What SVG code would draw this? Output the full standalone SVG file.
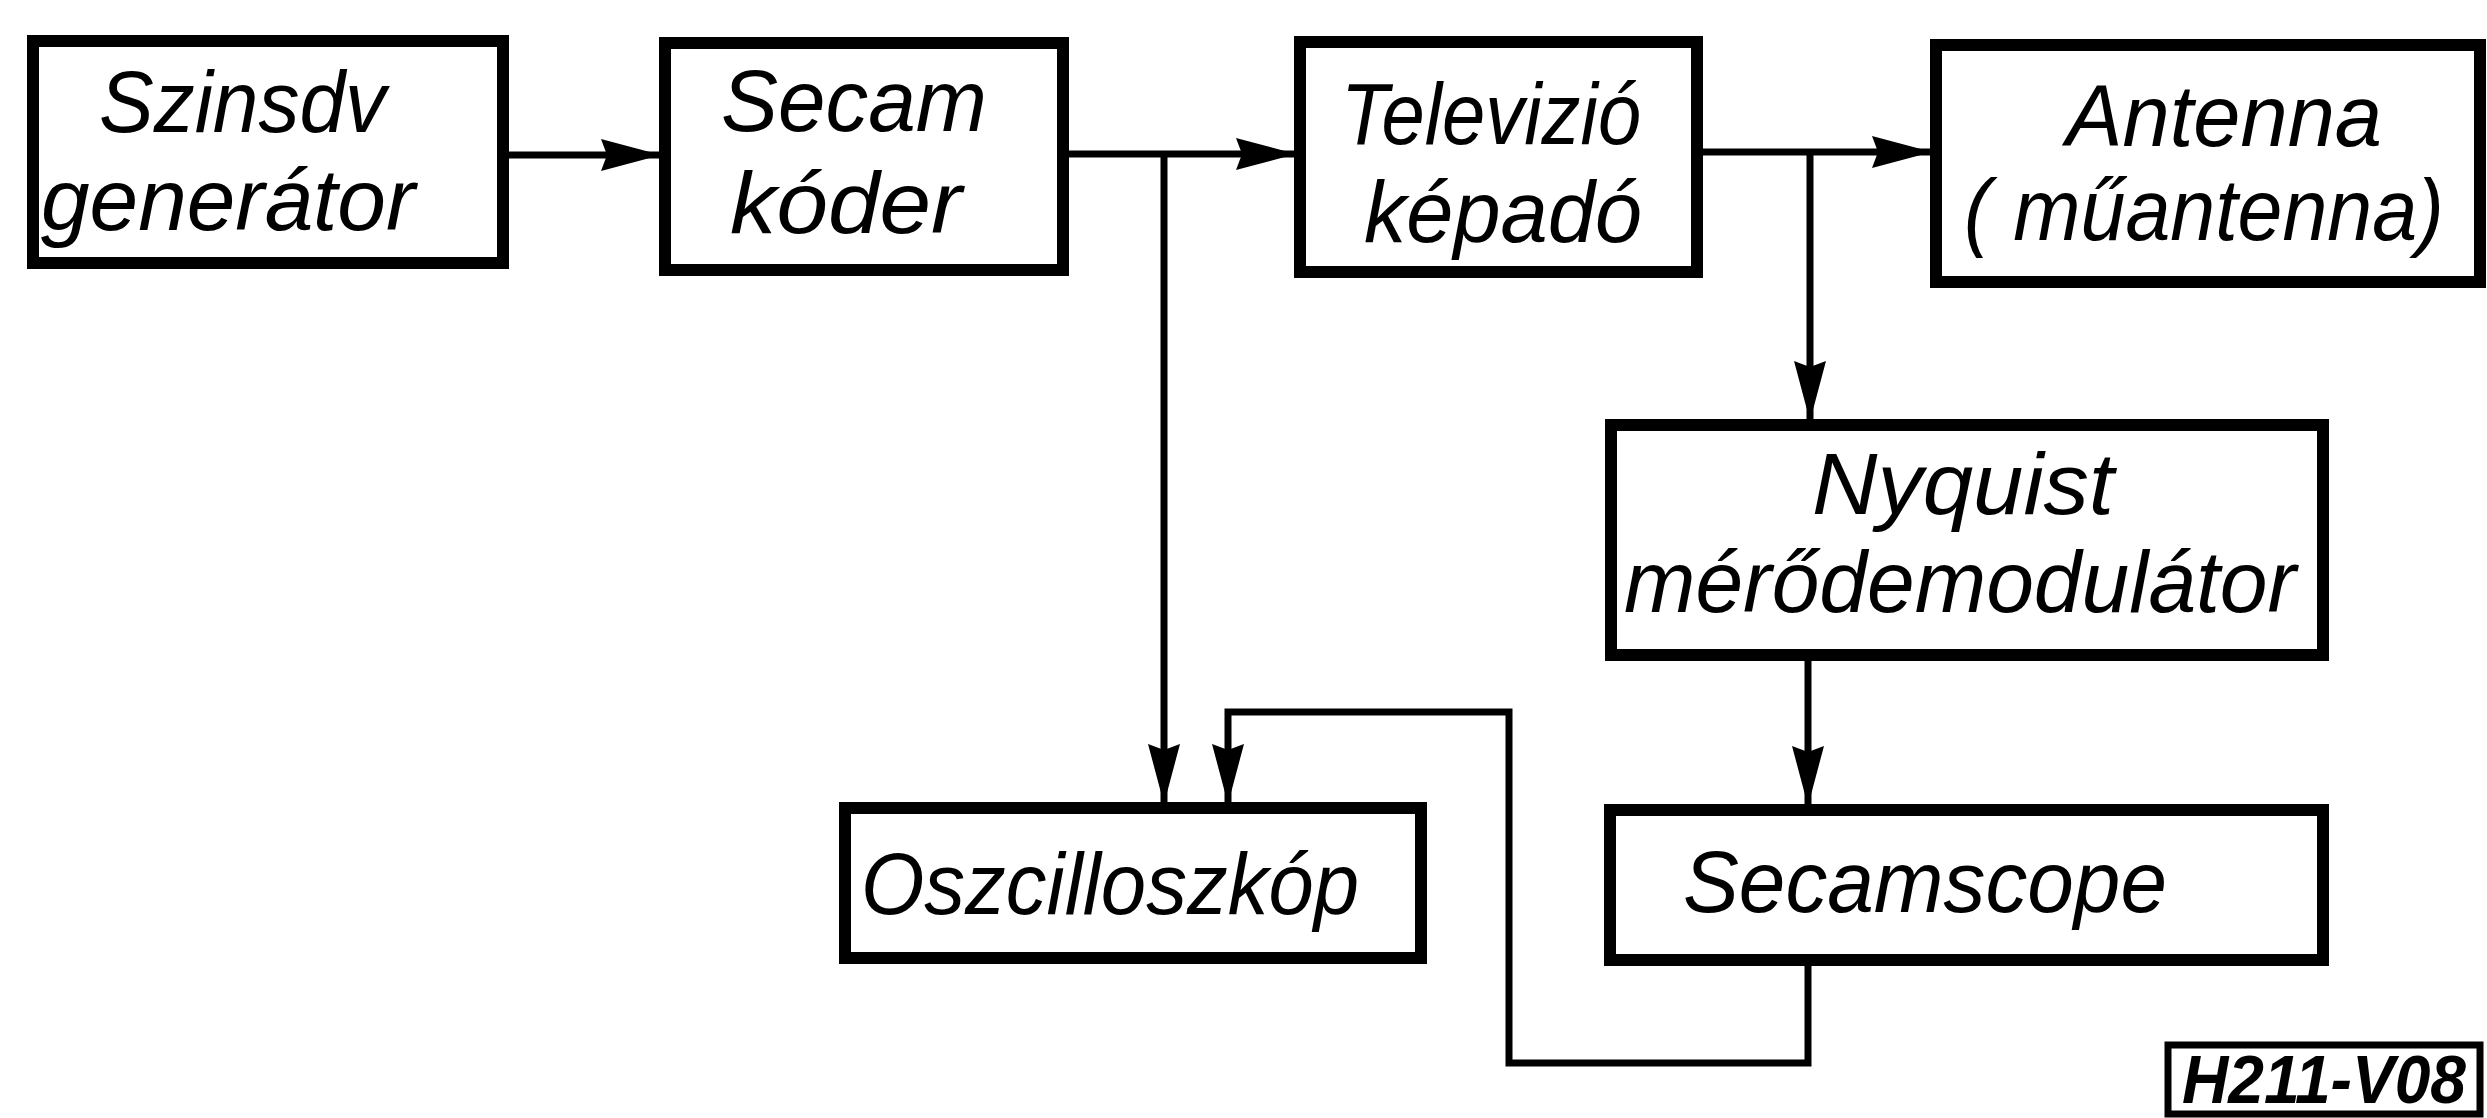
<svg xmlns="http://www.w3.org/2000/svg" width="2487" height="1118" viewBox="0 0 2487 1118">
<style>
.box{fill:#fff;stroke:#000;stroke-width:12}
.lbl{font-family:"Liberation Sans","DejaVu Sans",sans-serif;font-style:italic;font-size:88px;fill:#000}
.tag{font-family:"Liberation Sans","DejaVu Sans",sans-serif;font-style:italic;font-weight:bold;font-size:68px;fill:#000}
.ln{fill:none;stroke:#000;stroke-width:7;stroke-linejoin:miter}
</style>
<defs>
<marker id="ah" markerUnits="userSpaceOnUse" markerWidth="60" markerHeight="32" refX="58" refY="16" orient="auto">
<path d="M0,0 L60,16 L0,32 L6,16 z" fill="#000"/>
</marker>
</defs>
<rect width="2487" height="1118" fill="#fff"/>
<g id="connectors">
<path class="ln" d="M508,155 H659" marker-end="url(#ah)"/>
<path class="ln" d="M1069,154 H1294" marker-end="url(#ah)"/>
<path class="ln" d="M1164,154 V802" marker-end="url(#ah)"/>
<path class="ln" d="M1703,152 H1930" marker-end="url(#ah)"/>
<path class="ln" d="M1810,152 V419" marker-end="url(#ah)"/>
<path class="ln" d="M1808,661 V804" marker-end="url(#ah)"/>
<path class="ln" d="M1808,966 V1063 H1509 V712 H1228 V802" marker-end="url(#ah)"/>
</g>
<g id="szinsav-generator">
<rect class="box" x="33" y="41" width="470" height="222"/>
<text class="lbl" x="99" y="132" textLength="287" lengthAdjust="spacingAndGlyphs">Szinsdv</text>
<text class="lbl" x="41" y="230" textLength="374" lengthAdjust="spacingAndGlyphs">generátor</text>
</g>
<g id="secam-koder">
<rect class="box" x="665" y="43" width="398" height="227"/>
<text class="lbl" x="721" y="131" textLength="266" lengthAdjust="spacingAndGlyphs">Secam</text>
<text class="lbl" x="730" y="233" textLength="232" lengthAdjust="spacingAndGlyphs">kóder</text>
</g>
<g id="televizio-kepado">
<rect class="box" x="1300" y="42" width="397" height="230"/>
<text class="lbl" x="1341" y="144" textLength="300" lengthAdjust="spacingAndGlyphs">Televizió</text>
<text class="lbl" x="1364" y="242" textLength="278" lengthAdjust="spacingAndGlyphs">képadó</text>
</g>
<g id="antenna">
<rect class="box" x="1936" y="45" width="544" height="237"/>
<text class="lbl" x="2066" y="146" textLength="316" lengthAdjust="spacingAndGlyphs">Antenna</text>
<text class="lbl" x="1964" y="240" textLength="480" lengthAdjust="spacingAndGlyphs">( műantenna)</text>
</g>
<g id="nyquist">
<rect class="box" x="1611" y="425" width="712" height="230"/>
<text class="lbl" x="1812" y="514" textLength="302" lengthAdjust="spacingAndGlyphs">Nyquist</text>
<text class="lbl" x="1624" y="612" textLength="672" lengthAdjust="spacingAndGlyphs">mérődemodulátor</text>
</g>
<g id="oszcilloszkop">
<rect class="box" x="845" y="808" width="576" height="150"/>
<text class="lbl" x="861" y="914" textLength="498" lengthAdjust="spacingAndGlyphs">Oszcilloszkóp</text>
</g>
<g id="secamscope">
<rect class="box" x="1610" y="810" width="713" height="150"/>
<text class="lbl" x="1683" y="912" textLength="484" lengthAdjust="spacingAndGlyphs">Secamscope</text>
</g>
<g id="tag">
<rect x="2168" y="1045" width="312" height="69" fill="#fff" stroke="#000" stroke-width="7"/>
<text class="tag" x="2182" y="1103" textLength="284" lengthAdjust="spacingAndGlyphs">H211-V08</text>
</g>
</svg>
